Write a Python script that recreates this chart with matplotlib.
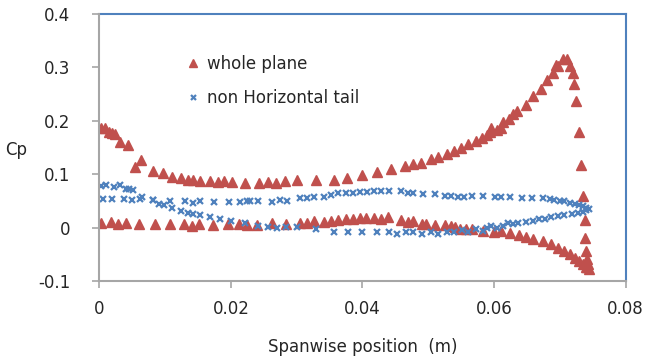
import matplotlib
matplotlib.use("Agg")
import matplotlib.pyplot as plt
from matplotlib.ticker import FixedLocator

plt.rcParams['font.family'] = ['DejaVu Sans']

# whole plane - upper branch
wp_up_x = [0.0002, 0.0008, 0.0014, 0.0019, 0.0024, 0.0031, 0.0043, 0.0054, 0.0064, 0.0081,
           0.0097, 0.0110, 0.0124, 0.0135, 0.0142, 0.0153, 0.0169, 0.0181, 0.0190, 0.0202,
           0.0222, 0.0243, 0.0257, 0.0269, 0.0282, 0.0301, 0.0330, 0.0357, 0.0377, 0.0399,
           0.0422, 0.0443, 0.0465, 0.0477, 0.0489, 0.0504, 0.0515, 0.0528, 0.0539, 0.0550,
           0.0561, 0.0572, 0.0582, 0.0589, 0.0594, 0.0596, 0.0605, 0.0611, 0.0614, 0.0623,
           0.0629, 0.0635, 0.0648, 0.0659, 0.0671, 0.0681, 0.0690, 0.0695, 0.0697, 0.0705,
           0.0711, 0.0716, 0.0720, 0.0722, 0.0725, 0.0729, 0.0733, 0.0735, 0.0738, 0.0739,
           0.0740, 0.0742, 0.0743, 0.0742]
wp_up_y = [0.187, 0.187, 0.179, 0.177, 0.176, 0.160, 0.154, 0.114, 0.126, 0.106,
           0.103, 0.095, 0.092, 0.090, 0.090, 0.088, 0.087, 0.085, 0.087, 0.085,
           0.084, 0.083, 0.085, 0.084, 0.087, 0.090, 0.090, 0.090, 0.093, 0.098,
           0.104, 0.109, 0.115, 0.120, 0.121, 0.129, 0.132, 0.138, 0.143, 0.149,
           0.156, 0.162, 0.167, 0.174, 0.179, 0.187, 0.182, 0.187, 0.197, 0.204,
           0.212, 0.218, 0.230, 0.246, 0.260, 0.276, 0.290, 0.305, 0.303, 0.316,
           0.316, 0.302, 0.289, 0.268, 0.238, 0.179, 0.118, 0.060, 0.014, -0.020,
           -0.043, -0.059, -0.068, -0.074]

# whole plane - lower branch
wp_lo_x = [0.0003, 0.0018, 0.0029, 0.0041, 0.0061, 0.0084, 0.0107, 0.0129, 0.0141, 0.0152,
           0.0173, 0.0196, 0.0213, 0.0224, 0.0240, 0.0262, 0.0284, 0.0305, 0.0316, 0.0327,
           0.0341, 0.0352, 0.0363, 0.0375, 0.0385, 0.0396, 0.0406, 0.0417, 0.0428, 0.0439,
           0.0458, 0.0469, 0.0477, 0.0490, 0.0496, 0.0510, 0.0525, 0.0535, 0.0540, 0.0549,
           0.0557, 0.0567, 0.0583, 0.0600, 0.0610, 0.0625, 0.0638, 0.0648, 0.0659, 0.0674,
           0.0686, 0.0697, 0.0707, 0.0716, 0.0723, 0.0730, 0.0735, 0.0740, 0.0742, 0.0744]
wp_lo_y = [0.0095, 0.011, 0.006, 0.008, 0.006, 0.006, 0.006, 0.006, 0.003, 0.006,
           0.0045, 0.006, 0.006, 0.0045, 0.0045, 0.0077, 0.006, 0.0095, 0.0095, 0.0125,
           0.011, 0.0125, 0.014, 0.016, 0.016, 0.0175, 0.0175, 0.0175, 0.017, 0.019,
           0.014, 0.011, 0.0125, 0.006, 0.006, 0.0045, 0.0045, 0.003, 0.002, -0.002,
           -0.002, -0.002, -0.006, -0.009, -0.007, -0.010, -0.014, -0.018, -0.022, -0.026,
           -0.031, -0.038, -0.043, -0.050, -0.056, -0.062, -0.068, -0.074, -0.071, -0.077]

# non Horizontal tail - branch starting at 0.08
nh_a_x = [0.0003, 0.0010, 0.0022, 0.0031, 0.0041, 0.0045, 0.0051, 0.0065, 0.0082, 0.0090,
          0.0098, 0.0110, 0.0124, 0.0135, 0.0142, 0.0153, 0.0168, 0.0184, 0.0200, 0.0222,
          0.0242, 0.0257, 0.0270, 0.0284, 0.0301, 0.0330, 0.0357, 0.0378, 0.0400, 0.0422,
          0.0441, 0.0452, 0.0467, 0.0477, 0.0490, 0.0504, 0.0515, 0.0528, 0.0539, 0.0551,
          0.0561, 0.0572, 0.0583, 0.0589, 0.0596, 0.0605, 0.0613, 0.0621, 0.0629, 0.0637,
          0.0648, 0.0659, 0.0669, 0.0677, 0.0687, 0.0697, 0.0707, 0.0718, 0.0728, 0.0735,
          0.0740, 0.0744]
nh_a_y = [0.078, 0.080, 0.076, 0.080, 0.073, 0.072, 0.070, 0.057, 0.051, 0.044,
          0.042, 0.037, 0.032, 0.028, 0.026, 0.023, 0.020, 0.017, 0.0125, 0.008,
          0.003, 0.002, 0.000, 0.002, 0.002, -0.002, -0.008, -0.008, -0.008, -0.009,
          -0.008, -0.012, -0.008, -0.008, -0.012, -0.008, -0.012, -0.008, -0.009, -0.004,
          -0.008, -0.003, -0.006, 0.000, 0.003, 0.000, 0.003, 0.0095, 0.006, 0.008,
          0.011, 0.0125, 0.016, 0.017, 0.019, 0.022, 0.024, 0.026, 0.028, 0.030,
          0.0325, 0.034]

# non Horizontal tail - branch starting at 0.053
nh_b_x = [0.0005, 0.0020, 0.0037, 0.0050, 0.0062, 0.0082, 0.0108, 0.0130, 0.0142, 0.0153,
          0.0175, 0.0197, 0.0214, 0.0224, 0.0229, 0.0241, 0.0263, 0.0275, 0.0286, 0.0305,
          0.0316, 0.0327, 0.0341, 0.0352, 0.0363, 0.0375, 0.0386, 0.0396, 0.0407, 0.0418,
          0.0428, 0.0440, 0.0459, 0.0470, 0.0477, 0.0492, 0.0510, 0.0525, 0.0535, 0.0545,
          0.0555, 0.0567, 0.0583, 0.0601, 0.0611, 0.0624, 0.0642, 0.0658, 0.0674, 0.0685,
          0.0692, 0.0700, 0.0707, 0.0715, 0.0723, 0.0730, 0.0735, 0.0740]
nh_b_y = [0.053, 0.053, 0.053, 0.052, 0.053, 0.051, 0.050, 0.050, 0.047, 0.049,
          0.048, 0.048, 0.048, 0.050, 0.050, 0.050, 0.048, 0.052, 0.050, 0.055,
          0.055, 0.058, 0.058, 0.061, 0.064, 0.0655, 0.0655, 0.067, 0.067, 0.0685,
          0.0685, 0.0685, 0.0685, 0.0655, 0.0655, 0.062, 0.062, 0.060, 0.059, 0.058,
          0.058, 0.059, 0.059, 0.058, 0.058, 0.058, 0.056, 0.056, 0.056, 0.053,
          0.052, 0.050, 0.049, 0.047, 0.045, 0.042, 0.0405, 0.0375]

x_ticks = [0, 0.02, 0.04, 0.06, 0.08]
x_tick_labels = ["0", "0.02", "0.04", "0.06", "0.08"]
y_ticks = [-0.1, 0, 0.1, 0.2, 0.3, 0.4]
y_tick_labels = ["-0.1", "0", "0.1", "0.2", "0.3", "0.4"]

red = "#C0504D"
blue = "#4F81BD"
gray = "#A6A6A6"
txt = "#262626"

fig = plt.figure(figsize=(6.47, 3.61), dpi=100)
ax = fig.add_axes([0.1535, 0.2216, 0.8133, 0.7396])

ax.plot(wp_up_x, wp_up_y, linestyle="none", marker="^", ms=6.5, color=red,
        mec=red, label="whole plane")
ax.plot(wp_lo_x, wp_lo_y, linestyle="none", marker="^", ms=6.5, color=red, mec=red)
ax.plot(nh_a_x, nh_a_y, linestyle="none", marker="x", ms=4.5, mew=1.6, color=blue,
        label="non Horizontal tail")
ax.plot(nh_b_x, nh_b_y, linestyle="none", marker="x", ms=4.5, mew=1.6, color=blue)

ax.set_xlim(0, 0.08)
ax.set_ylim(-0.1, 0.4)
ax.xaxis.set_major_locator(FixedLocator(x_ticks))
ax.set_xticklabels(x_tick_labels)
ax.yaxis.set_major_locator(FixedLocator(y_ticks))
ax.set_yticklabels(y_tick_labels)

for s in ["top", "right"]:
    ax.spines[s].set_color(blue)
    ax.spines[s].set_linewidth(1.5)
for s in ["left", "bottom"]:
    ax.spines[s].set_color(gray)
    ax.spines[s].set_linewidth(1.5)
    ax.spines[s].set_zorder(3)

ax.tick_params(axis="both", direction="out", length=5, width=1.2, color=gray,
               labelsize=12, labelcolor=txt)
ax.tick_params(axis="x", pad=9)
ax.tick_params(axis="y", pad=16)

ax.set_xlabel("Spanwise position  (m)", fontsize=12, color=txt, labelpad=14)
fig.text(0.008, 0.585, "Cp", fontsize=12, color=txt, ha="left", va="center")

leg = ax.legend(loc="upper left", bbox_to_anchor=(0.166, 0.848), frameon=False,
                fontsize=12, handletextpad=0.4, labelspacing=0.98, markerscale=0.8,
                handlelength=0.8, borderpad=0.0, borderaxespad=0.0, labelcolor=txt)

fig.savefig("out.png", dpi=100)
